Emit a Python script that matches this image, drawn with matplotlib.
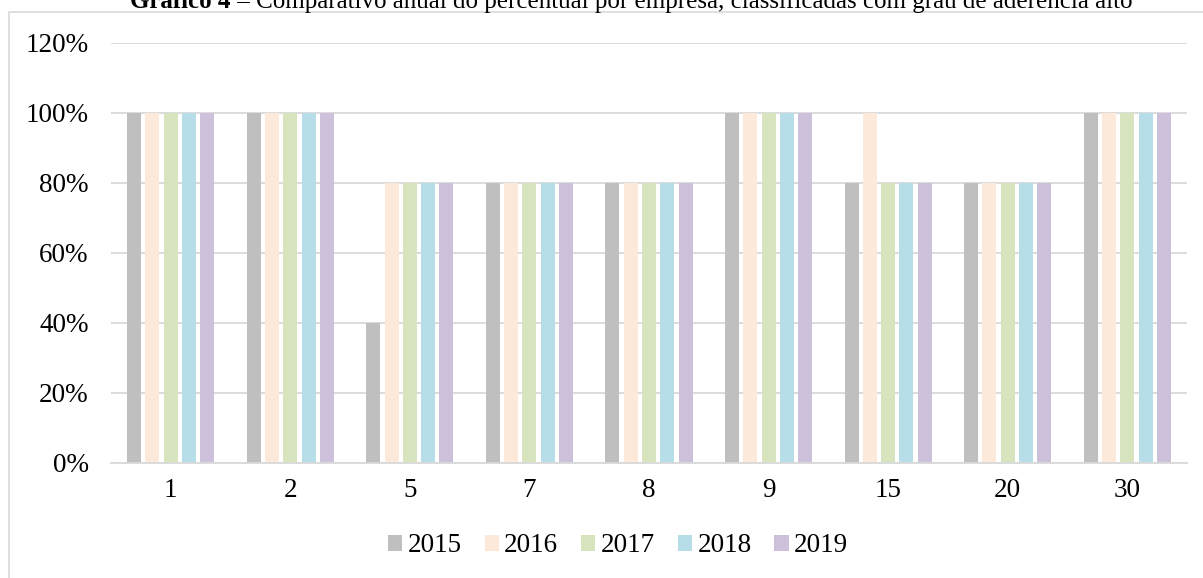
import numpy as np
import matplotlib.pyplot as plt
from matplotlib.patches import Rectangle

plt.rcParams['font.family'] = ['Liberation Serif', 'DejaVu Serif']

empresas = ['1', '2', '5', '7', '8', '9', '15', '20', '30']
anos = ['2015', '2016', '2017', '2018', '2019']
v2015 = [1.00, 1.00, 0.40, 0.80, 0.80, 1.00, 0.80, 0.80, 1.00]
v2016 = [1.00, 1.00, 0.80, 0.80, 0.80, 1.00, 1.00, 0.80, 1.00]
v2017 = [1.00, 1.00, 0.80, 0.80, 0.80, 1.00, 0.80, 0.80, 1.00]
v2018 = [1.00, 1.00, 0.80, 0.80, 0.80, 1.00, 0.80, 0.80, 1.00]
v2019 = [1.00, 1.00, 0.80, 0.80, 0.80, 1.00, 0.80, 0.80, 1.00]
series = [v2015, v2016, v2017, v2018, v2019]
cores = ['#BFBFBF', '#FDE9D9', '#D7E4BD', '#B7DEE8', '#CCC0DA']

W, H = 1203, 578
fig = plt.figure(figsize=(W / 100, H / 100), dpi=100, facecolor='white')
ax = fig.add_axes([111 / W, 1 - 463 / H, (1187 - 111) / W, (463 - 43) / H])

# outer chart border (only top and left visible in the crop)
fig.patches.append(Rectangle((8.5 / W, -0.1), 1.2, 1 - 12.5 / H + 0.1,
                             transform=fig.transFigure, fill=False,
                             edgecolor='#D9D9D9', linewidth=1.2))

x = np.arange(len(empresas))
bw = 0.117
step = 0.153
for i, (ano, vals, c) in enumerate(zip(anos, series, cores)):
    ax.bar(x + (i - 2) * step, vals, width=bw, color=c, label=ano, zorder=3)

ax.set_xlim(-0.5, len(empresas) - 0.5)
ax.set_ylim(0, 1.2)
ax.set_yticks(np.arange(0, 1.21, 0.2))
ax.set_yticklabels([f'{int(round(t * 100))}%' for t in np.arange(0, 1.21, 0.2)])
ax.set_xticks(x)
ax.set_xticklabels(empresas)
ax.tick_params(length=0, labelsize=19.5, colors='#000000')
ax.tick_params(axis='y', pad=16)
ax.tick_params(axis='x', pad=11)
ax.yaxis.grid(True, color='#D9D9D9', linewidth=1.3, zorder=0)
for s in ['top', 'right', 'left']:
    ax.spines[s].set_visible(False)
ax.spines['bottom'].set_color('#D9D9D9')
ax.spines['bottom'].set_linewidth(1.3)
ax.spines['bottom'].set_zorder(4)

ax.legend(loc='center', bbox_to_anchor=(618 / W, 1 - 546 / H),
          bbox_transform=fig.transFigure, ncol=5, frameon=False,
          fontsize=19.5, handlelength=0.52, handleheight=0.52,
          handletextpad=0.2, columnspacing=0.85, borderpad=0)

# title, clipped at the top of the image like in the source
t1 = fig.text(130 / W, 1 - 8 / H, 'Gráfico 4', fontsize=18,
              fontweight='bold', ha='left', va='baseline')
fig.canvas.draw()
bb = t1.get_window_extent()
fig.text((bb.x1 + 1) / W, 1 - 8 / H,
         ' – Comparativo anual do percentual por empresa, classificadas com grau de aderência alto',
         fontsize=18, ha='left', va='baseline')

fig.savefig('out.png', dpi=100, facecolor='white')
